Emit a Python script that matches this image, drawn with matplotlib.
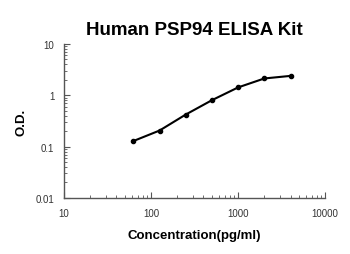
"""Standard curve for the Human PSP94 ELISA kit."""

import matplotlib.pyplot as plt
from matplotlib.ticker import LogLocator, FixedFormatter, FixedLocator

conc = [62.5, 125, 250, 500, 1000, 2000, 4000]
od = [0.128, 0.205, 0.42, 0.80, 1.42, 2.12, 2.38]

x_ticks = [10, 100, 1000, 10000]
x_labels = ["10", "100", "1000", "10000"]
y_ticks = [0.01, 0.1, 1, 10]
y_labels = ["0.01", "0.1", "1", "10"]


def main() -> None:
    plt.rcParams["font.family"] = ["Liberation Sans", "DejaVu Sans"]
    fig = plt.figure(figsize=(3.5, 2.55), dpi=100)
    ax = fig.add_axes([0.183, 0.22, 0.746, 0.604])

    ax.plot(conc, od, color="black", lw=1.5, marker="o", ms=3)

    ax.set_xscale("log")
    ax.set_yscale("log")
    ax.set_xlim(10, 10000)
    ax.set_ylim(0.01, 10)

    ax.xaxis.set_major_locator(FixedLocator(x_ticks))
    ax.xaxis.set_major_formatter(FixedFormatter(x_labels))
    ax.yaxis.set_major_locator(FixedLocator(y_ticks))
    ax.yaxis.set_major_formatter(FixedFormatter(y_labels))
    ax.xaxis.set_minor_locator(LogLocator(base=10, subs=range(2, 10)))
    ax.yaxis.set_minor_locator(LogLocator(base=10, subs=range(2, 10)))

    for side in ("top", "right"):
        ax.spines[side].set_visible(False)
    for side in ("left", "bottom"):
        ax.spines[side].set_color("#555555")
        ax.spines[side].set_linewidth(1.0)

    ax.tick_params(which="both", direction="in", color="#555555",
                   labelsize=7, labelcolor="#333333")
    ax.tick_params(which="major", length=4, width=0.8)
    ax.tick_params(which="minor", length=2.5, width=0.6)
    ax.tick_params(axis="x", pad=7)
    ax.tick_params(axis="y", pad=7)

    ax.set_title("Human PSP94 ELISA Kit", fontsize=13.5, fontweight="bold", pad=7)
    ax.set_xlabel("Concentration(pg/ml)", fontsize=9.5, fontweight="bold", labelpad=8)
    ax.set_ylabel("O.D.", fontsize=9.5, fontweight="bold", labelpad=6)

    fig.savefig("out.png", dpi=100)
    plt.close(fig)


if __name__ == "__main__":
    main()
